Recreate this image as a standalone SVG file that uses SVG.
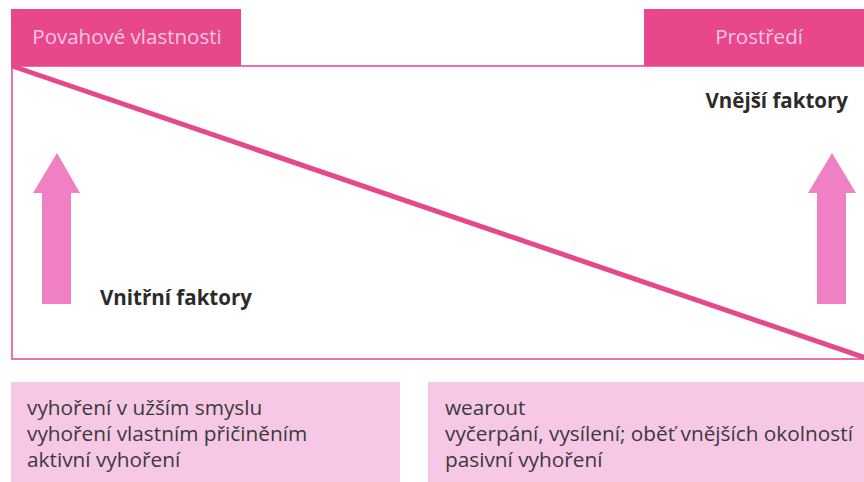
<svg xmlns="http://www.w3.org/2000/svg" width="864" height="482" viewBox="0 0 864 482">
<style>
.tab{fill:#e8478b}
.tabtxt{font-family:"Open Sans","Noto Sans",sans-serif;font-size:20.5px;fill:#f7c6e0}
.bold{font-family:"Open Sans","Noto Sans",sans-serif;font-size:20.5px;font-weight:bold;fill:#2b2b2b}
.arrow{fill:#ef80c3}
.box{fill:#f6c8e6}
.txt{font-family:"Open Sans","Noto Sans",sans-serif;font-size:20.8px;fill:#3a3a3a}
</style>
<rect width="864" height="482" fill="#ffffff"/>
<g id="frame">
<rect x="12" y="66" width="856" height="293" fill="none" stroke="#e670b0" stroke-width="2"/>
</g>
<g id="tab-left">
<rect class="tab" x="11" y="9" width="230" height="57"/>
<text class="tabtxt" x="127" y="44" text-anchor="middle">Povahové vlastnosti</text>
</g>
<g id="tab-right">
<rect class="tab" x="644" y="9" width="220" height="57"/>
<text class="tabtxt" x="759" y="44" text-anchor="middle">Prostředí</text>
</g>
<g id="connectors">
<line x1="12" y1="66" x2="866" y2="358" stroke="#e5488b" stroke-width="5"/>
</g>
<g id="arrow-left">
<polygon class="arrow" points="57,153 80,193 71,193 71,304 42,304 42,193 33,193"/>
<text class="bold" x="100" y="305">Vnitřní faktory</text>
</g>
<g id="arrow-right">
<polygon class="arrow" points="832,153 856,193 846,193 846,304 817,304 817,193 808,193"/>
<text class="bold" x="848" y="108" text-anchor="end">Vnější faktory</text>
</g>
<g id="box-left">
<rect class="box" x="11" y="382" width="389" height="100"/>
<text class="txt" x="27" y="415">vyhoření v užším smyslu</text>
<text class="txt" x="27" y="441">vyhoření vlastním přičiněním</text>
<text class="txt" x="27" y="467">aktivní vyhoření</text>
</g>
<g id="box-right">
<rect class="box" x="428" y="382" width="436" height="100"/>
<text class="txt" x="445" y="415">wearout</text>
<text class="txt" x="445" y="441">vyčerpání, vysílení; oběť vnějších okolností</text>
<text class="txt" x="445" y="467">pasivní vyhoření</text>
</g>
</svg>
